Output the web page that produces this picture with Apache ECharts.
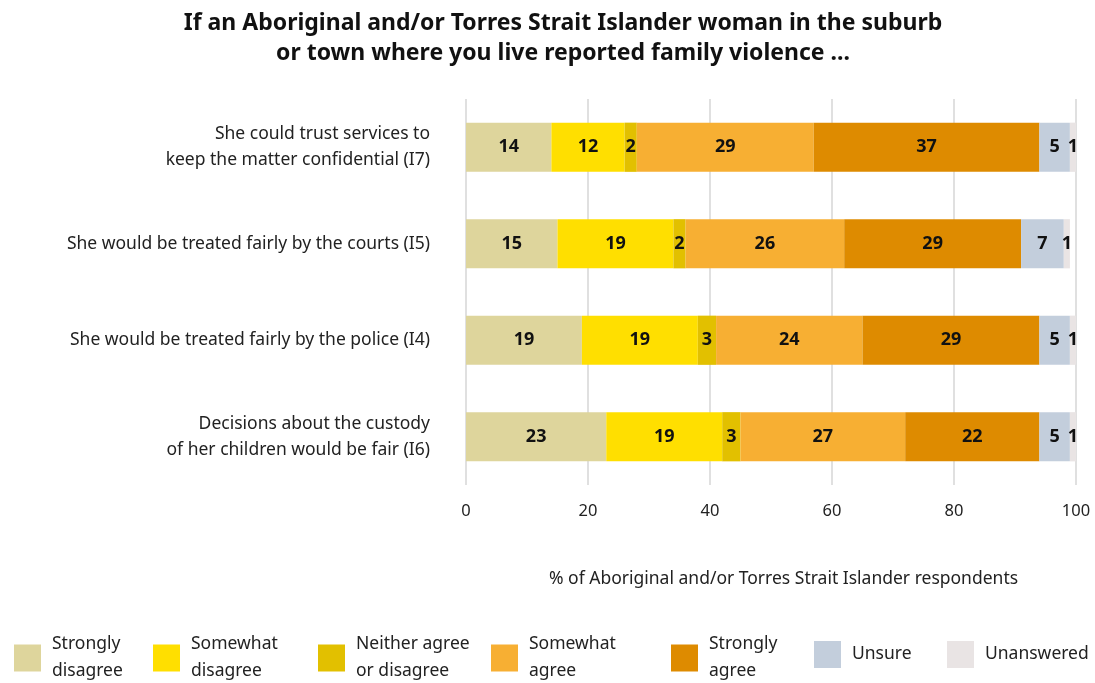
<!DOCTYPE html>
<html>
<head>
<meta charset="utf-8">
<script src="https://cdn.jsdelivr.net/npm/echarts@6/dist/echarts.min.js"></script>
<style>
  html, body { margin: 0; padding: 0; background: #fff; }
  #chart { width: 1095px; height: 683px; }
</style>
</head>
<body>
<div id="chart"></div>
<script>
  // questions, top to bottom
  const questions = [
    'She could trust services to\nkeep the matter confidential (I7)',
    'She would be treated fairly by the courts (I5)',
    'She would be treated fairly by the police (I4)',
    'Decisions about the custody\nof her children would be fair (I6)'
  ]
  const stronglyDisagree = [14, 15, 19, 23]
  const somewhatDisagree = [12, 19, 19, 19]
  const neither = [2, 2, 3, 3]
  const somewhatAgree = [29, 26, 24, 27]
  const stronglyAgree = [37, 29, 29, 22]
  const unsure = [5, 7, 5, 5]
  const unanswered = [1, 1, 1, 1]
  const xTicks = [0, 20, 40, 60, 80, 100]

  const names = ['Strongly\ndisagree', 'Somewhat\ndisagree', 'Neither agree\nor disagree',
    'Somewhat\nagree', 'Strongly\nagree', 'Unsure', 'Unanswered']
  const colors = ['#ded59c', '#ffdf00', '#e2c000', '#f7af33', '#de8b00', '#c3cedc', '#e9e4e4']
  const values = [stronglyDisagree, somewhatDisagree, neither, somewhatAgree, stronglyAgree, unsure, unanswered]
  const legendLeft = [9, 148, 313, 486, 666, 809, 942]

  const font = 'Noto Sans'
  const chart = echarts.init(document.getElementById('chart'))

  chart.setOption({
    textStyle: {fontFamily: font},
    color: colors,
    title: {
      text: 'If an Aboriginal and/or Torres Strait Islander woman in the suburb\nor town where you live reported family violence ...',
      left: 558,
      textAlign: 'center',
      top: 3,
      textStyle: {fontFamily: font, fontSize: 23, fontWeight: 'bold', color: '#111', lineHeight: 30}
    },
    legend: names.map((n, i) => ({
      data: [n],
      left: legendLeft[i],
      top: n.indexOf('\n') >= 0 ? 626 : 636,
      itemWidth: 27,
      itemHeight: 27,
      itemGap: 0,
      icon: 'rect',
      selectedMode: false,
      textStyle: {fontFamily: font, fontSize: 17.5, color: '#222', lineHeight: 27, padding: [0, 0, 0, 6]}
    })),
    grid: {left: 466, right: 19, top: 99, height: 386},
    xAxis: {
      type: 'value',
      min: xTicks[0],
      max: xTicks[xTicks.length - 1],
      interval: 20,
      axisLine: {show: false},
      axisTick: {show: false},
      splitLine: {lineStyle: {color: '#d6d6d6', width: 1.5}},
      axisLabel: {fontFamily: font, fontSize: 16.5, color: '#222', margin: 18}
    },
    yAxis: {
      type: 'category',
      inverse: true,
      data: questions,
      axisLine: {show: false},
      axisTick: {show: false},
      axisLabel: {fontFamily: font, fontSize: 17.5, color: '#222', margin: 36, lineHeight: 26, align: 'right'}
    },
    graphic: [{
      type: 'text',
      left: 549,
      top: 570,
      style: {text: '% of Aboriginal and/or Torres Strait Islander respondents', font: '17.5px "Noto Sans"', fill: '#222'}
    }],
    series: names.map((n, i) => ({
      name: n,
      type: 'bar',
      stack: 'total',
      barWidth: '51%',
      data: values[i],
      label: {
        show: true,
        position: 'inside',
        color: '#111',
        fontFamily: font,
        fontSize: 18,
        fontWeight: 'bold'
      },
      emphasis: {disabled: true}
    }))
  })
</script>
</body>
</html>
